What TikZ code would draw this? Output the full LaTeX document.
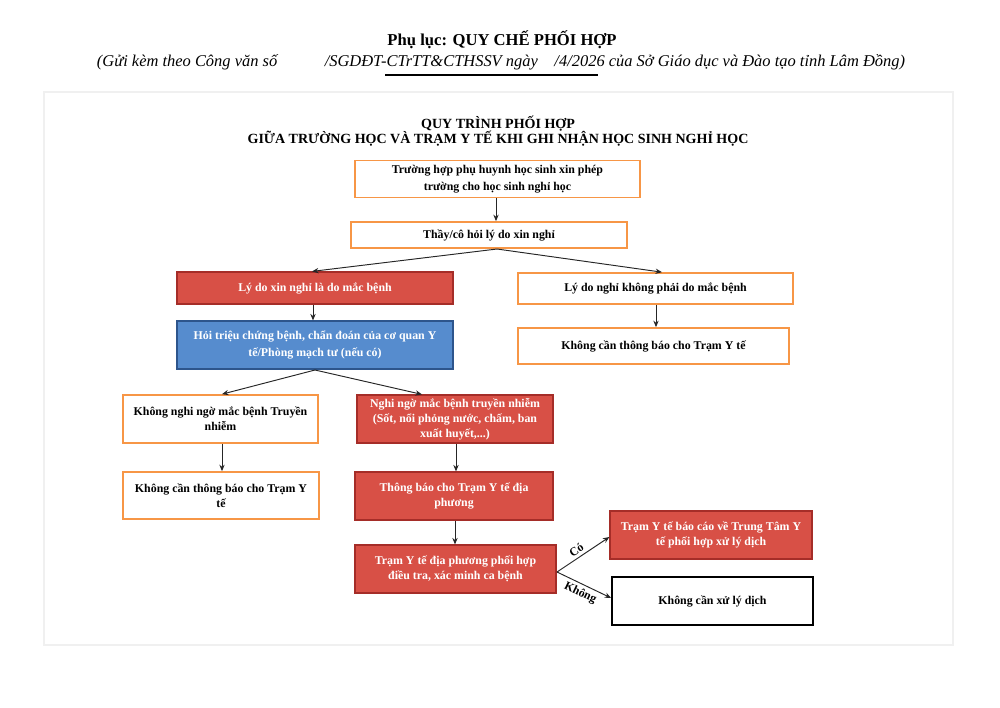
\documentclass[tikz,border=0pt]{standalone}
\usepackage{fontspec}
\setmainfont{Liberation Serif}
\usetikzlibrary{arrows.meta}
\definecolor{orng}{RGB}{247,150,70}
\definecolor{redf}{RGB}{216,80,70}
\definecolor{redd}{RGB}{165,45,40}
\definecolor{bluef}{RGB}{86,140,206}
\definecolor{blued}{RGB}{45,85,140}
\definecolor{panel}{RGB}{240,240,240}
\tikzset{
  wh/.style 2 args={minimum width=#1*0.842pt, minimum height=#2*0.842pt},
  box/.style={rectangle, align=center, inner sep=0pt,
    font=\bfseries\fontsize{10}{12.5}\selectfont},
  obox/.style={box, draw=orng, fill=white, text=black, line width=1.4pt},
  rbox/.style={box, draw=redd, fill=redf, text=white, line width=1pt},
  bbox/.style={box, draw=blued, fill=bluef, text=white, line width=1pt},
  kbox/.style={box, draw=black, fill=white, text=black, line width=1.4pt},
  arr/.style={-{Stealth[length=5.5pt,width=4.5pt]}, draw=black!85, line width=0.8pt},
  lbl/.style={font=\bfseries\fontsize{10}{11}\selectfont, inner sep=2.5pt}
}
\begin{document}
\begin{tikzpicture}[x=0.842pt,y=-0.842pt]
\useasboundingbox (0,0) rectangle (1000,707);
% header
\node (h1) at (502,40) {\fontsize{14}{16}\selectfont\bfseries Phụ lục: QUY CHẾ PHỐI HỢP};
\node (h2) at (501,62) {\fontsize{13.85}{16}\selectfont\itshape (Gửi kèm theo Công văn số\hspace{40pt}/SGDĐT-CTrTT\&CTHSSV ngày\hspace{14pt}/4/2026 của Sở Giáo dục và Đào tạo tỉnh Lâm Đồng)};
\coordinate (u1) at (385,75);
\coordinate (u2) at (598,75);
\draw[line width=1pt] (u1) -- (u2);
% panel
\draw[panel, line width=1.5pt] (44,92) rectangle (953,645);
% title
\node (t1) at (498,124) {\fontsize{11.8}{13}\selectfont\bfseries QUY TRÌNH PHỐI HỢP};
\node (t2) at (498,139) {\fontsize{11.8}{13}\selectfont\bfseries GIỮA TRƯỜNG HỌC VÀ TRẠM Y TẾ KHI GHI NHẬN HỌC SINH NGHỈ HỌC};
% boxes
\node[obox, wh={285}{37}, font=\bfseries\fontsize{10}{14}\selectfont] (b1) at (497.5,179) {Trường hợp phụ huynh học sinh xin phép\\trường cho học sinh nghỉ học};
\node[obox, wh={276}{26}] (b2) at (489,235) {Thầy/cô hỏi lý do xin nghỉ};
\node[rbox, wh={276}{32}] (L1) at (315,288) {Lý do xin nghỉ là do mắc bệnh};
\node[obox, wh={275}{31}] (R1) at (655.5,288.5) {Lý do nghỉ không phải do mắc bệnh};
\node[bbox, wh={276}{48}, font=\bfseries\fontsize{10}{14}\selectfont] (Bl) at (315,345) {Hỏi triệu chứng bệnh, chẩn đoán của cơ quan Y\\tế/Phòng mạch tư (nếu có)};
\node[obox, wh={271}{36}] (R2) at (653.5,346) {Không cần thông báo cho Trạm Y tế};
\node[obox, wh={195}{48}] (L2) at (220.5,419) {Không nghi ngờ mắc bệnh Truyền\\nhiễm};
\node[rbox, wh={196}{48}] (M2) at (455,419) {Nghi ngờ mắc bệnh truyền nhiễm\\(Sốt, nổi phỏng nước, chấm, ban\\xuất huyết,...)};
\node[obox, wh={196}{47}] (L3) at (221,495.5) {Không cần thông báo cho Trạm Y\\tế};
\node[rbox, wh={198}{48}] (M3) at (454,496) {Thông báo cho Trạm Y tế địa\\phương};
\node[rbox, wh={201}{48}] (M4) at (455.5,569) {Trạm Y tế địa phương phối hợp\\điều tra, xác minh ca bệnh};
\node[rbox, wh={202}{48}] (R4) at (711,535) {Trạm Y tế báo cáo về Trung Tâm Y\\tế phối hợp xử lý dịch};
\node[kbox, wh={201}{48}] (R5) at (712.5,601) {Không cần xử lý dịch};
% connectors
\coordinate (f1) at (497,249);
\coordinate (f2) at (315,370);
\coordinate (f3) at (557,572);
\draw[arr] (b1.south -| 496,0) -- (b2.north -| 496,0);
\draw[arr] (f1) -- (L1.north -| 312,0);
\draw[arr] (f1) -- (R1.north -| 662,0);
\draw[arr] (L1.south -| 313,0) -- (Bl.north -| 313,0);
\draw[arr] (R1.south -| 656,0) -- (R2.north -| 656,0);
\draw[arr] (f2) -- (L2.north -| 222,0);
\draw[arr] (f2) -- (M2.north -| 422,0);
\draw[arr] (L2.south -| 222,0) -- (L3.north -| 222,0);
\draw[arr] (M2.south -| 456,0) -- (M3.north -| 456,0);
\draw[arr] (M3.south -| 455,0) -- (M4.north -| 455,0);
\draw[arr] (f3) -- node[lbl, sloped, above, pos=0.45] {Có} (R4.west |- 0,537);
\draw[arr] (f3) -- node[lbl, sloped, below, pos=0.5] {Không} (R5.west |- 0,598);
\end{tikzpicture}
\end{document}
